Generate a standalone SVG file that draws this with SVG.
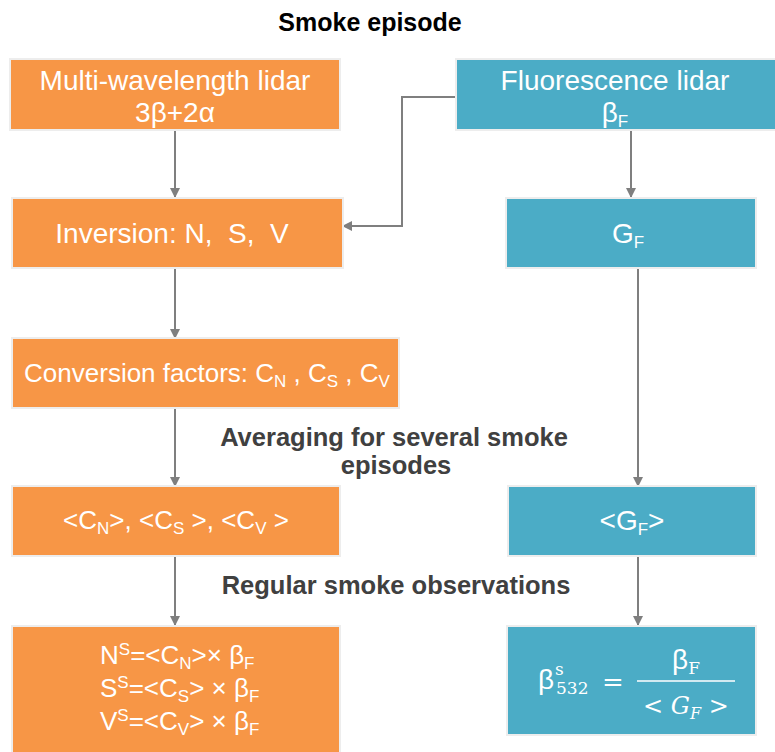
<svg xmlns="http://www.w3.org/2000/svg" width="775" height="752" viewBox="0 0 775 752">
<defs>
<marker id="arr" markerWidth="10" markerHeight="10" refX="9" refY="5" orient="auto" markerUnits="userSpaceOnUse">
<path d="M0,0 L10,5 L0,10 Z" fill="#7F7F7F"/>
</marker>
<style>
.or{fill:#F79646;stroke:#EDEDED;stroke-width:2}
.bl{fill:#4BACC6;stroke:#EDEDED;stroke-width:2}
.t{font-family:"Liberation Sans",Arial,sans-serif;fill:#FFFFFF;font-size:26px;white-space:pre}
.big{font-size:28px}
.lab{font-family:"Liberation Sans",Arial,sans-serif;fill:#404040;font-size:25.5px;font-weight:bold}
.ttl{font-family:"Liberation Sans",Arial,sans-serif;fill:#000000;font-size:25px;font-weight:bold}
.c{fill:none;stroke:#7F7F7F;stroke-width:2;marker-end:url(#arr)}
.m{font-family:"DejaVu Serif","Liberation Serif",serif;fill:#FFFFFF}
</style>
</defs>
<rect width="775" height="752" fill="#FFFFFF"/>
<text class="ttl" x="370" y="31" text-anchor="middle">Smoke episode</text>

<g id="connectors">
<path class="c" d="M175,130 V197"/>
<path class="c" d="M175,267 V338"/>
<path class="c" d="M175,408 V486"/>
<path class="c" d="M175,556 V625"/>
<path class="c" d="M456,97 H402 V226 H343"/>
<path class="c" d="M631,130 V197"/>
<path class="c" d="M638,267 V486"/>
<path class="c" d="M638,556 V625"/>
</g>

<g id="multiwavelength">
<rect class="or" x="10" y="59" width="330" height="71"/>
<text class="t big" x="175" y="90" text-anchor="middle">Multi-wavelength lidar</text>
<text class="t big" x="175" y="122" text-anchor="middle">3β+2α</text>
</g>
<g id="fluorescence">
<rect class="bl" x="456" y="59" width="320" height="71"/>
<text class="t big" x="615" y="90" text-anchor="middle">Fluorescence lidar</text>
<text class="t big" x="615" y="122" text-anchor="middle">β<tspan font-size="17" dy="5">F</tspan></text>
</g>
<g id="inversion">
<rect class="or" x="12" y="198" width="331" height="70"/>
<text class="t big" x="172" y="243" text-anchor="middle">Inversion: N,  S,  V</text>
</g>
<g id="gf">
<rect class="bl" x="506" y="198" width="250" height="70"/>
<text class="t big" x="628" y="243" text-anchor="middle">G<tspan font-size="17" dy="5">F</tspan></text>
</g>
<g id="conversion">
<rect class="or" x="12" y="338" width="387" height="70"/>
<text class="t" x="207" y="382" text-anchor="middle">Conversion factors: C<tspan font-size="17" dy="5">N</tspan><tspan dy="-5"> , C</tspan><tspan font-size="17" dy="5">S</tspan><tspan dy="-5"> , C</tspan><tspan font-size="17" dy="5">V</tspan></text>
</g>
<text class="lab" x="394" y="446" text-anchor="middle">Averaging for several smoke</text>
<text class="lab" x="396" y="474" text-anchor="middle">episodes</text>
<g id="avgc">
<rect class="or" x="12" y="486" width="328" height="70"/>
<text class="t" x="176" y="529" text-anchor="middle">&lt;C<tspan font-size="17" dy="5">N</tspan><tspan dy="-5">&gt;, &lt;C</tspan><tspan font-size="17" dy="5">S</tspan><tspan dy="-5"> &gt;, &lt;C</tspan><tspan font-size="17" dy="5">V</tspan><tspan dy="-5"> &gt;</tspan></text>
</g>
<g id="avggf">
<rect class="bl" x="508" y="486" width="248" height="70"/>
<text class="t big" x="632" y="530" text-anchor="middle">&lt;G<tspan font-size="17" dy="5">F</tspan><tspan dy="-5">&gt;</tspan></text>
</g>
<text class="lab" x="396" y="594" text-anchor="middle">Regular smoke observations</text>
<g id="results">
<rect class="or" x="12" y="626" width="328" height="130"/>
<text class="t" x="100" y="664">N<tspan font-size="17" dy="-9">S</tspan><tspan dy="9">=&lt;C</tspan><tspan font-size="17" dy="5">N</tspan><tspan dy="-5">&gt;× β</tspan><tspan font-size="17" dy="5">F</tspan></text>
<text class="t" x="100" y="697">S<tspan font-size="17" dy="-9">S</tspan><tspan dy="9">=&lt;C</tspan><tspan font-size="17" dy="5">S</tspan><tspan dy="-5">&gt; × β</tspan><tspan font-size="17" dy="5">F</tspan></text>
<text class="t" x="100" y="730">V<tspan font-size="17" dy="-9">S</tspan><tspan dy="9">=&lt;C</tspan><tspan font-size="17" dy="5">V</tspan><tspan dy="-5">&gt; × β</tspan><tspan font-size="17" dy="5">F</tspan></text>
</g>
<g id="beta532">
<rect class="bl" x="507" y="626" width="249" height="109"/>
<text class="t big" x="538" y="689">β<tspan class="m" font-size="17" dx="1" dy="-14">s</tspan><tspan class="m" font-size="17" x="556" dy="19">532</tspan></text>
<text class="m" x="602" y="691" font-size="26">=</text>
<line x1="637" y1="681" x2="735" y2="681" stroke="#FFFFFF" stroke-width="1.5"/>
<text class="t big" x="686" y="669" text-anchor="middle">β<tspan class="m" font-size="17" dy="5">F</tspan></text>
<text class="m" x="686" y="714" font-size="24" text-anchor="middle">&lt; <tspan font-style="italic">G</tspan><tspan font-style="italic" font-size="16" dy="5">F</tspan><tspan dy="-5"> &gt;</tspan></text>
</g>
</svg>
